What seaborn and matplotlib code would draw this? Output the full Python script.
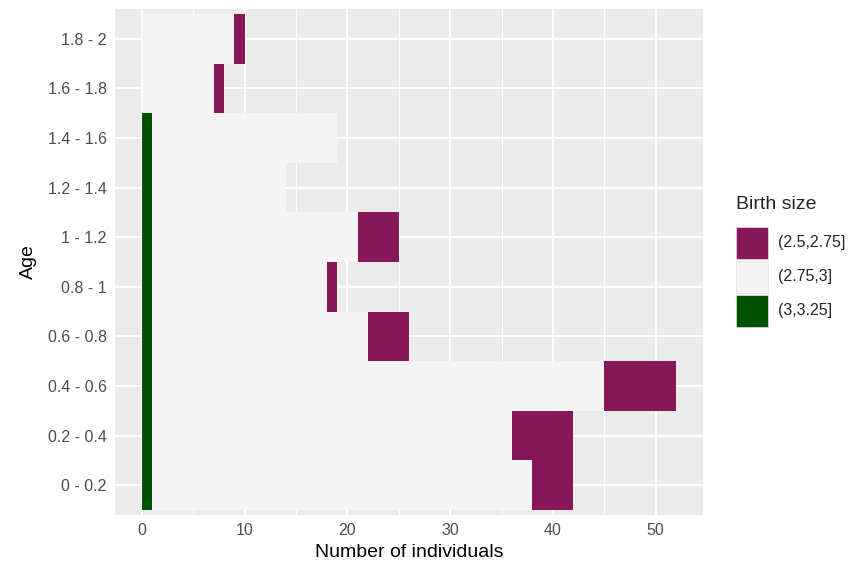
import numpy as np
import pandas as pd
import matplotlib
matplotlib.use("Agg")
import matplotlib.pyplot as plt
import seaborn as sns
from matplotlib.patches import Rectangle

# age classes, top to bottom as drawn
ages = ["1.8 - 2", "1.6 - 1.8", "1.4 - 1.6", "1.2 - 1.4", "1 - 1.2",
        "0.8 - 1", "0.6 - 0.8", "0.4 - 0.6", "0.2 - 0.4", "0 - 0.2"]
size_labels = ["(2.5,2.75]", "(2.75,3]", "(3,3.25]"]
size_colors = ["#871858", "#F5F5F5", "#005100"]

# counts per birth size class
n_small = [1, 1, 0, 0, 4, 1, 4, 7, 6, 4]        # (2.5,2.75]
n_mid = [9, 7, 18, 13, 20, 17, 21, 44, 35, 37]  # (2.75,3]
n_large = [0, 0, 1, 1, 1, 1, 1, 1, 1, 1]        # (3,3.25]

df = pd.DataFrame({"age": ages, "small": n_small, "mid": n_mid, "large": n_large})
# stacking: large at the left, then mid, then small
df["cum_large"] = df["large"]
df["cum_mid"] = df["large"] + df["mid"]
df["cum_small"] = df["large"] + df["mid"] + df["small"]

sns.set_theme(style="darkgrid")
plt.rcParams["font.family"] = ["Liberation Sans", "DejaVu Sans"]

fig = plt.figure(figsize=(8.58, 5.67), dpi=100)
W, H = 858, 567
ax = fig.add_axes([115 / W, 1 - 515 / H, (703 - 115) / W, (515 - 9) / H])
ax.set_facecolor("#EBEBEB")

for col, color in zip(["cum_small", "cum_mid", "cum_large"], size_colors):
    sns.barplot(data=df, x=col, y="age", order=ages, orient="h", color=color,
                width=1.0, linewidth=0, saturation=1, ax=ax, zorder=3)

ax.set_xlim(-2.6, 54.6)
ax.set_ylim(9.6, -0.6)
ax.set_xticks([0, 10, 20, 30, 40, 50])
ax.set_xticks([5, 15, 25, 35, 45], minor=True)
ax.grid(which="major", color="white", linewidth=1.5, zorder=0)
ax.grid(which="minor", axis="x", color="white", linewidth=0.75, zorder=0)
ax.grid(which="minor", axis="y", visible=False)
ax.set_axisbelow(True)
for s in ax.spines.values():
    s.set_visible(False)
ax.tick_params(axis="both", which="major", length=4, width=1, color="#333333",
               labelsize=11.5, labelcolor="#4D4D4D", pad=2)
ax.tick_params(axis="both", which="minor", length=0)
ax.set_xlabel("Number of individuals", fontsize=14, color="black", labelpad=4)
ax.set_ylabel("Age", fontsize=14, color="black", labelpad=8)

# legend in ggplot style
fig.text(736 / W, 1 - 205 / H, "Birth size", fontsize=14, va="center", ha="left")
for i, (lab, color) in enumerate(zip(size_labels, size_colors)):
    top = 227 + 34 * i
    fig.add_artist(Rectangle((736 / W, 1 - (top + 32) / H), 32 / W, 32 / H,
                             transform=fig.transFigure, facecolor=color,
                             edgecolor="#E0E0E0", linewidth=0.5))
    fig.text(778 / W, 1 - (top + 16) / H, lab, fontsize=11.5, va="center", ha="left")

fig.savefig("out.png", dpi=100, facecolor="white")
